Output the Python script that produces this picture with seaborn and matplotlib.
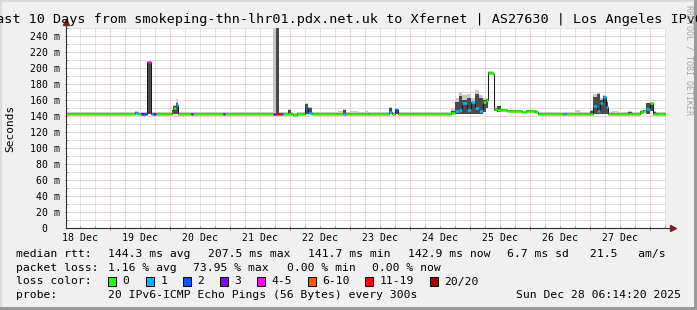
import numpy as np
import pandas as pd
import matplotlib
matplotlib.use("Agg")
import matplotlib.pyplot as plt
import seaborn as sns
from matplotlib.patches import Rectangle

# ---------------- data ----------------
T_START = 18.26   # 18 Dec 06:14 (day of December, fractional)
T_END = 28.26     # 28 Dec 06:14

# interval start times (fractional day of December)
t = [18.26, 19.417, 19.467, 19.517, 19.567, 19.617, 19.683, 19.708, 19.767,
     20.025, 20.050, 20.088, 20.125, 20.350, 20.383, 20.883, 20.917,
     21.717, 21.758, 21.767, 21.808, 21.845, 21.878, 21.967, 22.017, 22.042,
     22.117, 22.250, 22.300, 22.367, 22.800, 22.878, 22.928, 23.000, 23.133,
     23.250, 23.300, 23.650, 23.700, 23.750, 23.800, 24.050, 24.117,
     24.683, 24.750, 24.817, 24.867, 24.950, 25.017, 25.083, 25.150, 25.217,
     25.267, 25.292, 25.375, 25.392, 25.450, 25.517, 25.617, 25.667, 25.867,
     25.933, 26.083, 26.122, 26.550, 26.600, 26.750, 26.833,
     27.000, 27.050, 27.117, 27.167, 27.217, 27.258, 27.300, 27.367, 27.467,
     27.633, 27.700, 27.833, 27.883, 27.925, 28.000, 28.038, 28.100]
# median rtt in ms
median_ms = [142.9, 144.0, 142.9, 142.9, 142.9, 207.5, 142.9, 142.9, 142.9,
             145.0, 150.0, 154.0, 142.9, 142.9, 142.9, 142.9, 142.9,
             142.9, 142.9, 142.9, 142.9, 142.9, 142.9, 142.9, 142.9, 141.3,
             142.9, 150.0, 143.5, 142.9, 142.9, 142.9, 142.9, 142.9, 142.9,
             142.9, 142.9, 145.0, 142.9, 147.5, 142.9, 142.9, 142.9,
             143.5, 146.0, 148.0, 156.0, 147.0, 157.0, 150.0, 146.0, 158.0,
             160.0, 194.0, 193.0, 148.3, 147.5, 147.5, 146.2, 146.7, 144.6,
             146.7, 145.4, 142.9, 142.9, 142.9, 142.9, 142.9,
             143.0, 152.0, 146.0, 156.5, 164.0, 151.0, 142.9, 142.9, 142.9,
             142.9, 142.9, 145.0, 146.7, 149.0, 156.0, 142.9, 142.9]
# lost pings out of 20
loss = [0, 1, 0, 3, 2, 4, 1, 3, 0,
        0, 0, 1, 0, 2, 0, 2, 0,
        3, 12, 12, 12, 2, 0, 0, 0, 0,
        0, 2, 1, 0, 0, 1, 0, 0, 0,
        0, 0, 1, 0, 2, 0, 0, 0,
        0, 1, 1, 1, 1, 1, 1, 1, 0,
        0, 0, 0, 0, 0, 0, 0, 0, 0,
        0, 0, 0, 1, 0, 0, 0,
        0, 1, 1, 1, 1, 1, 0, 0, 0,
        0, 0, 0, 0, 1, 0, 0, 0]
# smoke (ping spread) in ms: lower edge, top of dense part, top of sparse part
smoke_lo = [142, 142, 142, 142, 142, 142, 142, 142, 142,
            142, 143, 143, 142, 142, 142, 142, 142,
            142, 142, 142, 142, 142, 142, 142, 142, 140.5,
            142, 143, 142, 142, 142, 142, 142, 142, 142,
            142, 142, 142, 142, 142, 142, 142, 142,
            142, 142, 142, 143, 142, 143, 142, 142, 145,
            150, 192, 191, 146, 145, 146, 145, 145.5, 143.5,
            145.5, 144.5, 142, 142, 142, 142, 142,
            142, 142, 142, 143, 143, 142, 142, 142, 142,
            142, 142, 143, 145, 142, 146, 142, 142]
smoke_mid = [143.6, 145.0, 143.6, 143.6, 143.6, 207.0, 143.6, 143.6, 143.6,
             147.0, 152.0, 156.0, 143.6, 143.6, 143.6, 143.6, 143.6,
             142.0, 142.0, 300.0, 143.6, 143.6, 143.6, 148.0, 143.6, 142.5,
             143.6, 155.0, 150.0, 143.6, 143.6, 148.0, 143.6, 143.6, 143.6,
             143.6, 143.6, 150.0, 143.6, 149.0, 143.6, 143.6, 143.6,
             146.0, 158.0, 165.0, 160.0, 163.0, 158.0, 168.0, 162.0, 160.0,
             161.0, 195.0, 194.0, 150.0, 152.5, 148.5, 147.0, 147.5, 145.5,
             147.5, 146.0, 143.6, 143.6, 143.6, 143.6, 143.6,
             146.0, 164.0, 168.0, 160.0, 165.0, 158.0, 143.6, 143.6, 143.6,
             145.5, 143.6, 146.0, 147.5, 155.8, 156.5, 145.0, 143.6]
smoke_hi = [144.5, 146.0, 144.5, 144.5, 144.5, 208.0, 144.5, 144.5, 144.5,
            148.0, 154.0, 161.0, 144.5, 144.5, 144.5, 144.5, 144.5,
            300.0, 300.0, 300.0, 144.5, 144.5, 144.5, 149.0, 144.5, 143.5,
            144.5, 156.0, 151.0, 144.5, 146.0, 149.0, 144.5, 146.0, 144.5,
            146.0, 144.5, 151.0, 144.5, 150.0, 144.5, 145.5, 144.5,
            150.0, 162.0, 170.0, 166.0, 167.0, 163.0, 172.0, 166.0, 163.0,
            162.0, 196.0, 195.0, 151.0, 153.0, 149.0, 148.0, 148.0, 146.0,
            148.0, 147.0, 144.5, 144.5, 144.5, 147.0, 144.5,
            148.0, 167.0, 170.0, 162.0, 166.0, 160.0, 144.5, 146.0, 144.5,
            146.0, 144.5, 147.0, 148.0, 156.5, 157.0, 146.0, 144.5]

day_labels = ["18 Dec", "19 Dec", "20 Dec", "21 Dec", "22 Dec",
              "23 Dec", "24 Dec", "25 Dec", "26 Dec", "27 Dec"]
y_ticks = [0, 20, 40, 60, 80, 100, 120, 140, 160, 180, 200, 220, 240]

loss_labels = ["0", "1", "2", "3", "4-5", "6-10", "11-19", "20/20"]
loss_upper = [0, 1, 2, 3, 5, 10, 19, 20]
loss_colors = ["#26ff00", "#00b8ff", "#0059ff", "#7e00ff",
               "#ff00ff", "#ff5500", "#ff0000", "#a10000"]

title = "Last 10 Days from smokeping-thn-lhr01.pdx.net.uk to Xfernet | AS27630 | Los Angeles IPv6"
rtt_stats = ["144.3 ms avg", "207.5 ms max", "141.7 ms min",
             "142.9 ms now", "6.7 ms sd", "21.5   am/s"]
loss_stats = ["1.16 % avg", "73.95 % max", "0.00 % min", "0.00 % now"]
probe_text = "20 IPv6-ICMP Echo Pings (56 Bytes) every 300s"
stamp_text = "Sun Dec 28 06:14:20 2025"

# ---------------- figure ----------------
W, H = 697, 310
MONO = "DejaVu Sans Mono"
plt.rcParams["font.family"] = [MONO]


def fx(x):
    return x / W


def fy(y):
    return 1 - y / H


fig = plt.figure(figsize=(W / 100, H / 100), dpi=100, facecolor="#f0f0f0")
ax = fig.add_axes([fx(66), fy(228), 600 / W, 200 / H])
ax.set_facecolor("white")
ax.set_xlim(T_START, T_END)
ax.set_ylim(0, 250)
ax.set_axisbelow(True)
for s in ax.spines.values():
    s.set_visible(False)

t_ext = t + [T_END]


def ext(a):
    return list(a) + [a[-1]]


# smoke
ax.fill_between(t_ext, ext(smoke_mid), ext(smoke_hi), step="post",
                color="#c8c8c8", lw=0, zorder=2)
ax.fill_between(t_ext, ext(smoke_lo), ext(smoke_mid), step="post",
                color="#4a4a4a", lw=0, zorder=2.1)

# median line (thin, dark) through seaborn
df = pd.DataFrame({"t": t_ext, "median": ext(median_ms)})
sns.lineplot(data=df, x="t", y="median", ax=ax, color="#1a1a1a", lw=0.75,
             drawstyle="steps-post", estimator=None, sort=False, zorder=3)
ax.set_xlabel("")
ax.set_ylabel("")


def loss_bin(n):
    for i, u in enumerate(loss_upper):
        if n <= u:
            return i
    return len(loss_upper) - 1


seg_colors = [loss_colors[loss_bin(n)] for n in loss]
ax.hlines(median_ms, t, t_ext[1:], colors=seg_colors, linewidth=1.8,
          zorder=4)

# grid / ticks
midnights = list(range(int(np.ceil(T_START)), int(T_END) + 1))
six_hours = [v for v in np.arange(np.ceil(T_START * 4) / 4, T_END, 0.25)]
ax.set_xticks(midnights)
ax.set_xticklabels([""] * len(midnights))
ax.set_xticks(six_hours, minor=True)
noon_map = {18.5 + i: lab for i, lab in enumerate(day_labels)}
ax.set_xticklabels([noon_map.get(round(v, 2), "") for v in six_hours],
                   minor=True)
ax.set_yticks(y_ticks)
ax.set_yticklabels([f"{v} m" if v else "0  " for v in y_ticks])
ax.set_yticks([v + 10 for v in y_ticks[:-1]] + [250], minor=True)

ax.grid(which="major", color="#f4a0a0", linestyle=(0, (1, 1)), lw=0.72)
ax.grid(which="minor", color="#c4c4c4", linestyle=(0, (1, 1)), lw=0.72)

ax.tick_params(axis="x", which="major", length=2.5, direction="inout",
               color="#e06060", width=0.72)
ax.tick_params(axis="x", which="minor", length=1.5, direction="in",
               color="#999999", width=0.72, labelsize=7.1, pad=3.3)
ax.tick_params(axis="y", which="major", length=2.0, direction="inout",
               color="#e06060", width=0.72, labelsize=7.1, pad=3.3)
ax.tick_params(axis="y", which="minor", length=1.2, direction="in",
               color="#999999", width=0.72)

# axes with arrows
ax.plot([0, 0], [0, 1.03], transform=ax.transAxes, color="#303030", lw=0.8,
        clip_on=False, zorder=5)
ax.plot([0, 1.01], [0, 0], transform=ax.transAxes, color="#303030", lw=0.8,
        clip_on=False, zorder=5)
ax.plot([0], [1.03], transform=ax.transAxes, marker="^", ms=4.2,
        color="#7f1f1f", clip_on=False, zorder=6)
ax.plot([1.011], [0], transform=ax.transAxes, marker=">", ms=4.2,
        color="#7f1f1f", clip_on=False, zorder=6)

# texts
fig.text(fx(346), fy(23.3), title, ha="center", va="baseline", fontsize=9.7)
fig.text(fx(10), fy(128), "Seconds", rotation=90, ha="center", va="center",
         fontsize=8)
fig.text(fx(689), fy(60), "RRDTOOL / TOBI OETIKER", rotation=270,
         ha="center", va="center", fontsize=6, color="#a8a8a8")

LFS = 8.17
rows = [257, 271, 284.5, 298]
fig.text(fx(16), fy(rows[0]), "median rtt:", fontsize=LFS, va="baseline")
for xp, s in zip([107.6, 207.6, 308, 408, 507, 590], rtt_stats):
    fig.text(fx(xp), fy(rows[0]), s, fontsize=LFS, va="baseline")
fig.text(fx(16), fy(rows[1]), "packet loss:", fontsize=LFS, va="baseline")
for xp, s in zip([107.6, 193, 287, 372], loss_stats):
    fig.text(fx(xp), fy(rows[1]), s, fontsize=LFS, va="baseline")
fig.text(fx(16), fy(rows[2]), "loss color:", fontsize=LFS, va="baseline")
for xp, lab, col in zip([108, 146, 183, 220, 257, 308, 365, 430],
                        loss_labels, loss_colors):
    fig.add_artist(Rectangle((fx(xp), fy(286)), 8 / W, 9 / H,
                             transform=fig.transFigure, facecolor=col,
                             edgecolor="black", lw=0.7))
    fig.text(fx(xp + 14.5), fy(rows[2]), lab, fontsize=LFS, va="baseline")
fig.text(fx(16), fy(rows[3]), "probe:", fontsize=LFS, va="baseline")
fig.text(fx(107.6), fy(rows[3]), probe_text, fontsize=LFS, va="baseline")
fig.text(fx(681), fy(rows[3]), stamp_text, fontsize=LFS, va="baseline",
         ha="right")

# 3D-ish frame
for (x0, y0, w, h, c) in [(0, 0, W, 2, "#dcdcdc"), (0, 0, 2, H, "#dcdcdc"),
                          (W - 3, 0, 3, H, "#9a9a9a"),
                          (0, H - 3, W, 3, "#9a9a9a")]:
    fig.add_artist(Rectangle((fx(x0), fy(y0 + h)), w / W, h / H,
                             transform=fig.transFigure, facecolor=c,
                             edgecolor="none", lw=0))

fig.savefig("out.png", dpi=100, facecolor=fig.get_facecolor())
